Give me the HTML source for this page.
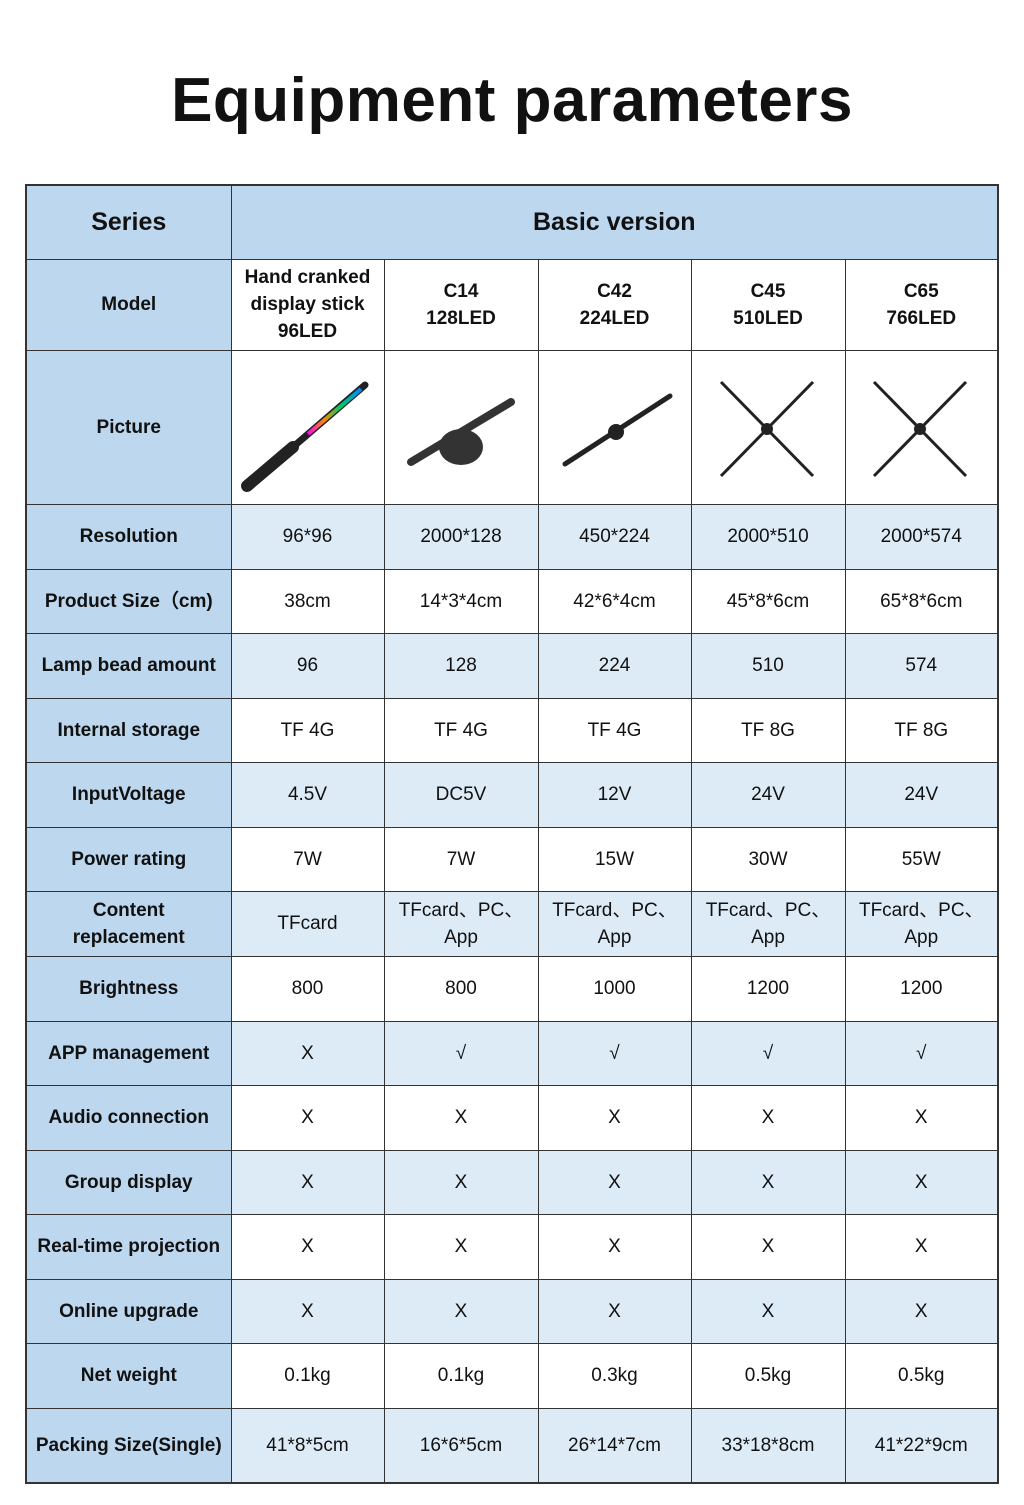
<!DOCTYPE html>
<html><head><meta charset="utf-8"><style>
body{margin:0;width:1024px;height:1505px;background:#fff;font-family:"Liberation Sans",sans-serif;position:relative;overflow:hidden}
h1{position:absolute;top:65px;left:0;width:1024px;text-align:center;margin:0;font-size:62px;font-weight:bold;color:#111;letter-spacing:0.5px}
table{position:absolute;left:25px;top:184px;border-collapse:collapse;table-layout:fixed;width:973px;border:2px solid #333}
td{border:1px solid #333;text-align:center;vertical-align:middle;font-size:19px;color:#111;padding:0;line-height:27px}
td.h{background:#bdd7ee;font-weight:bold}
tr.l td{background:#ddebf7}
tr.l td.h,tr td.h{background:#bdd7ee}
.b{font-weight:bold}
.big{font-size:25px}
svg{display:block;margin:0 auto}
</style></head><body>
<h1>Equipment parameters</h1>
<table>
<colgroup><col style="width:205px"><col style="width:153px"><col style="width:154px"><col style="width:153px"><col style="width:154px"><col style="width:153px"></colgroup>
<tr style="height:74px"><td class="h big">Series</td><td class="h big" colspan="5">Basic version</td></tr>
<tr style="height:91px"><td class="h">Model</td><td class="b">Hand cranked display stick 96LED</td><td class="b">C14<br>128LED</td><td class="b">C42<br>224LED</td><td class="b">C45<br>510LED</td><td class="b">C65<br>766LED</td></tr>
<tr style="height:154px"><td class="h">Picture</td>
<td><svg width="150" height="140" viewBox="0 5 150 140"><line x1="14" y1="134" x2="60" y2="95" stroke="#222" stroke-width="12" stroke-linecap="round"/><line x1="60" y1="95" x2="132" y2="33" stroke="#222" stroke-width="7" stroke-linecap="round"/><line x1="75" y1="82" x2="128" y2="37" stroke="url(#g)" stroke-width="4"/><defs><linearGradient id="g"><stop offset="0" stop-color="#f0f"/><stop offset=".3" stop-color="#f80"/><stop offset=".6" stop-color="#0c6"/><stop offset="1" stop-color="#08f"/></linearGradient></defs></svg></td>
<td><svg width="150" height="140" viewBox="0 5 150 140"><line x1="25" y1="110" x2="125" y2="50" stroke="#333" stroke-width="8" stroke-linecap="round"/><ellipse cx="75" cy="95" rx="22" ry="18" fill="#333"/></svg></td>
<td><svg width="150" height="140" viewBox="0 5 150 140"><line x1="25" y1="112" x2="130" y2="44" stroke="#222" stroke-width="5" stroke-linecap="round"/><circle cx="76" cy="80" r="8" fill="#222"/></svg></td>
<td><svg width="150" height="140" viewBox="0 5 150 140"><line x1="28" y1="30" x2="120" y2="124" stroke="#222" stroke-width="3"/><line x1="120" y1="30" x2="28" y2="124" stroke="#222" stroke-width="3"/><circle cx="74" cy="77" r="6" fill="#222"/></svg></td>
<td><svg width="150" height="140" viewBox="0 5 150 140"><line x1="28" y1="30" x2="120" y2="124" stroke="#222" stroke-width="3"/><line x1="120" y1="30" x2="28" y2="124" stroke="#222" stroke-width="3"/><circle cx="74" cy="77" r="6" fill="#222"/></svg></td></tr>
<tr class="l" style="height:65px"><td class="h">Resolution</td><td>96*96</td><td>2000*128</td><td>450*224</td><td>2000*510</td><td>2000*574</td></tr>
<tr style="height:64px"><td class="h">Product Size（cm)</td><td>38cm</td><td>14*3*4cm</td><td>42*6*4cm</td><td>45*8*6cm</td><td>65*8*6cm</td></tr>
<tr class="l" style="height:65px"><td class="h">Lamp bead amount</td><td>96</td><td>128</td><td>224</td><td>510</td><td>574</td></tr>
<tr style="height:64px"><td class="h">Internal storage</td><td>TF 4G</td><td>TF 4G</td><td>TF 4G</td><td>TF 8G</td><td>TF 8G</td></tr>
<tr class="l" style="height:65px"><td class="h">InputVoltage</td><td>4.5V</td><td>DC5V</td><td>12V</td><td>24V</td><td>24V</td></tr>
<tr style="height:64px"><td class="h">Power rating</td><td>7W</td><td>7W</td><td>15W</td><td>30W</td><td>55W</td></tr>
<tr class="l" style="height:65px"><td class="h">Content<br>replacement</td><td>TFcard</td><td>TFcard、PC、<br>App</td><td>TFcard、PC、<br>App</td><td>TFcard、PC、<br>App</td><td>TFcard、PC、<br>App</td></tr>
<tr style="height:65px"><td class="h">Brightness</td><td>800</td><td>800</td><td>1000</td><td>1200</td><td>1200</td></tr>
<tr class="l" style="height:64px"><td class="h">APP management</td><td>X</td><td>√</td><td>√</td><td>√</td><td>√</td></tr>
<tr style="height:65px"><td class="h">Audio connection</td><td>X</td><td>X</td><td>X</td><td>X</td><td>X</td></tr>
<tr class="l" style="height:64px"><td class="h">Group display</td><td>X</td><td>X</td><td>X</td><td>X</td><td>X</td></tr>
<tr style="height:65px"><td class="h">Real-time projection</td><td>X</td><td>X</td><td>X</td><td>X</td><td>X</td></tr>
<tr class="l" style="height:64px"><td class="h">Online upgrade</td><td>X</td><td>X</td><td>X</td><td>X</td><td>X</td></tr>
<tr style="height:65px"><td class="h">Net weight</td><td>0.1kg</td><td>0.1kg</td><td>0.3kg</td><td>0.5kg</td><td>0.5kg</td></tr>
<tr class="l" style="height:75px"><td class="h">Packing Size(Single)</td><td>41*8*5cm</td><td>16*6*5cm</td><td>26*14*7cm</td><td>33*18*8cm</td><td>41*22*9cm</td></tr>
</table>
</body></html>
